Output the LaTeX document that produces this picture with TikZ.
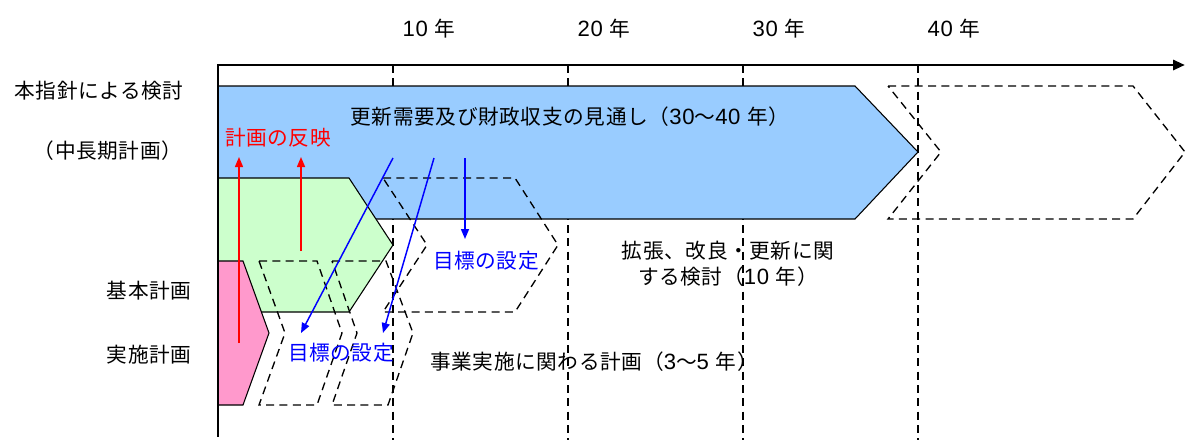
\documentclass[tikz,border=0pt]{standalone}
\usepackage{fontspec}
\setmainfont{Noto Sans CJK JP}[LetterSpace=3]
\newfontfamily\latf{Liberation Sans}[Scale=1.07,LetterSpace=3]
\usetikzlibrary{arrows.meta}
\definecolor{blueF}{HTML}{99CCFF}
\definecolor{greenF}{HTML}{CCFFCC}
\definecolor{pinkF}{HTML}{FF99CC}
\definecolor{arrB}{HTML}{0000FF}
\definecolor{arrR}{HTML}{FF0000}
\begin{document}
\begin{tikzpicture}[x=0.75pt,y=-0.75pt,
  txt/.style={inner sep=0pt,font=\fontsize{15.5pt}{19.5pt}\selectfont},
  shp/.style={draw=black,line width=0.8pt,line join=miter},
  dsh/.style={draw=black,line width=1pt,dash pattern=on 6pt off 4pt},
  grid/.style={draw=black,line width=1pt,dash pattern=on 6pt off 4pt},
  barr/.style={draw=arrB,line width=1.1pt,-{Triangle[length=7.5pt,width=6pt]}},
  rarr/.style={draw=arrR,line width=1.1pt,-{Triangle[length=7.5pt,width=6pt]}}]
\useasboundingbox (0,0) rectangle (1185,440);
% grid lines (behind shapes)
\foreach \gx in {393,568,743,918}{
  \draw[grid] (\gx,65) -- (\gx,440);
}
% blue shape
\path[shp,fill=blueF] (218,86) -- (855,86) -- (918,152) -- (855,219) -- (218,219) -- cycle;
% green shape
\path[shp,fill=greenF] (218,178) -- (349,178) -- (393,245) -- (349,312) -- (218,312) -- cycle;
% pink shape
\path[shp,fill=pinkF] (218,261) -- (243,261) -- (269,333) -- (243,405) -- (218,405) -- cycle;
% dashed chevrons
\draw[dsh] (888,86) -- (1133,86) -- (1185,152) -- (1133,219) -- (888,219) -- (941,152) -- cycle;
\draw[dsh] (383,178) -- (515,178) -- (558,245) -- (515,312) -- (383,312) -- (427,245) -- cycle;
\draw[dsh] (259,261) -- (317,261) -- (342,333) -- (317,405) -- (259,405) -- (285,333) -- cycle;
\draw[dsh] (332,261) -- (386,261) -- (413,333) -- (388,405) -- (332,405) -- (357,333) -- cycle;
% axes
\draw[line width=2.2pt] (218,65) -- (218,437);
\draw[line width=2.2pt,-{Triangle[length=9pt,width=7.5pt]}] (217,65) -- (1185,65);
% labels
\node[txt] (y10) at (429,29) {{\latf 10 }年};
\node[txt] (y20) at (604,29) {{\latf 20 }年};
\node[txt] (y30) at (779,29) {{\latf 30 }年};
\node[txt] (y40) at (954,29) {{\latf 40 }年};
\node[txt] (l1) at (99,91) {本指針による検討};
\node[txt] (l2) at (108,151) {（中長期計画）};
\node[txt] (l3) at (149,291) {基本計画};
\node[txt] (l4) at (149,355) {実施計画};
\node[txt] (t1) at (570,117) {更新需要及び財政収支の見通し（{\latf 30}〜{\latf 40 }年）};
\node[txt,align=center] (t2) at (728,264) {拡張、改良・更新に関\\する検討（{\latf 10 }年）};
\node[txt] (t3) at (594,362) {事業実施に関わる計画（{\latf 3}〜{\latf 5 }年）};
\node[txt,text=arrR] (r1) at (278,138) {計画の反映};
\node[txt,text=arrB] (g1) at (486,261) {目標の設定};
\node[txt,text=arrB] (g2) at (341,353) {目標の設定};
% arrows
\coordinate (ra1s) at (239,343); \coordinate (ra1e) at (239,157);
\coordinate (ra2s) at (301,251); \coordinate (ra2e) at (301,157);
\draw[rarr] (ra1s) -- (ra1e);
\draw[rarr] (ra2s) -- (ra2e);
\coordinate (ba1s) at (393,158); \coordinate (ba1e) at (301,333);
\coordinate (ba2s) at (434,158); \coordinate (ba2e) at (383,333);
\coordinate (ba3s) at (465,158); \coordinate (ba3e) at (465,239);
\draw[barr] (ba1s) -- (ba1e);
\draw[barr] (ba2s) -- (ba2e);
\draw[barr] (ba3s) -- (ba3e);
\end{tikzpicture}
\end{document}
